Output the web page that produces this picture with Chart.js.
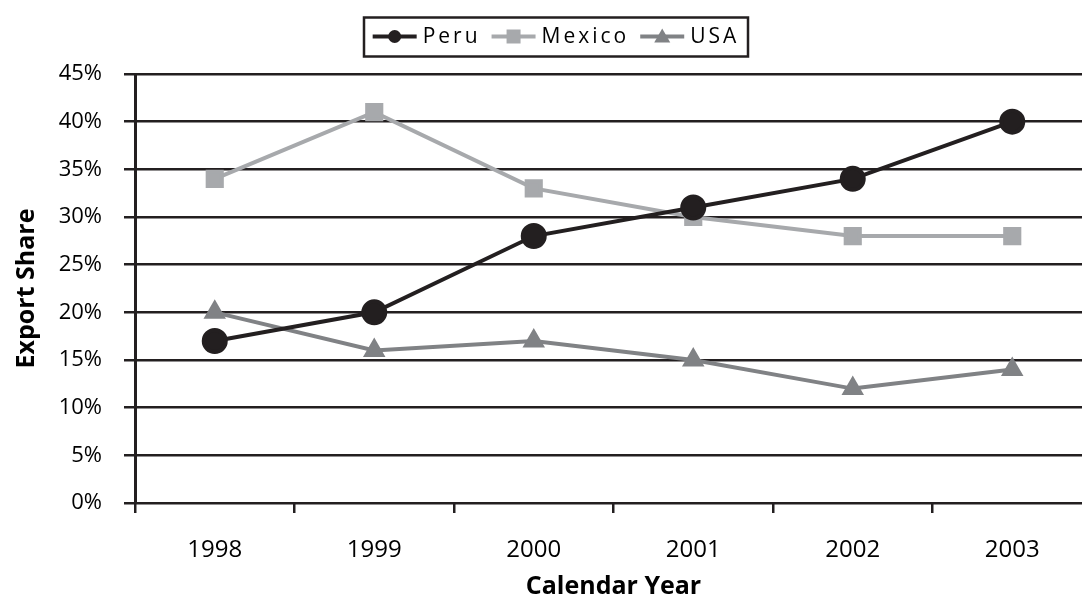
<!DOCTYPE html>
<html>
<head>
<meta charset="utf-8">
<script src="https://cdn.jsdelivr.net/npm/chart.js@4.4.1/dist/chart.umd.min.js"></script>
<style>
  html, body { margin: 0; padding: 0; background: #fff; overflow: hidden; }
  #wrap { width: 1100px; height: 596px; }
</style>
</head>
<body>
<div id="wrap"><canvas id="c" width="1100" height="596"></canvas></div>
<script>
// Export share by calendar year
const years = ['1998', '1999', '2000', '2001', '2002', '2003'];
const peru = [17, 20, 28, 31, 34, 40];
const mexico = [34, 41, 33, 30, 28, 28];
const usa = [20, 16, 17, 15, 12, 14];
const yTicks = [0, 5, 10, 15, 20, 25, 30, 35, 40, 45];

const FONT = "'Open Sans', 'Noto Sans', sans-serif";
const INK = '#231f20';

// Boxed legend with spaced lettering, drawn across the top
const boxedLegend = {
  id: 'boxedLegend',
  afterDraw(chart) {
    const ctx = chart.ctx;
    const items = chart.data.datasets;
    ctx.save();
    ctx.font = '21px ' + FONT;
    ctx.letterSpacing = '3px';
    const lineLen = 44, gapText = 6, gapItem = 11;
    const widths = items.map(d => ctx.measureText(d.label).width);
    let total = 0;
    widths.forEach((w, i) => { total += lineLen + gapText + w + (i < items.length - 1 ? gapItem : 0); });
    const cx = 556, cy = 36.5;
    let x = cx - total / 2;
    // frame
    ctx.lineWidth = 2.5;
    ctx.strokeStyle = INK;
    ctx.strokeRect(364, 17.5, 384, 39);
    items.forEach((d, i) => {
      ctx.strokeStyle = d.borderColor;
      ctx.fillStyle = d.borderColor;
      ctx.lineWidth = 4;
      ctx.beginPath();
      ctx.moveTo(x, cy);
      ctx.lineTo(x + lineLen, cy);
      ctx.stroke();
      const mx = x + lineLen / 2;
      ctx.beginPath();
      if (d.pointStyle === 'circle') {
        ctx.arc(mx, cy, 6.5, 0, Math.PI * 2);
      } else if (d.pointStyle === 'rect') {
        ctx.rect(mx - 7, cy - 7, 14, 14);
      } else {
        ctx.moveTo(mx, cy - 8);
        ctx.lineTo(mx + 8, cy + 6);
        ctx.lineTo(mx - 8, cy + 6);
        ctx.closePath();
      }
      ctx.fill();
      ctx.fillStyle = '#000';
      ctx.textBaseline = 'middle';
      ctx.textAlign = 'left';
      ctx.fillText(d.label, x + lineLen + gapText, cy + 1);
      x += lineLen + gapText + widths[i] + gapItem;
    });
    ctx.restore();
  }
};

new Chart(document.getElementById('c'), {
  type: 'line',
  data: {
    labels: years,
    datasets: [
      {
        label: 'Peru', data: peru,
        borderColor: INK, backgroundColor: INK, borderWidth: 4,
        pointStyle: 'circle', pointRadius: 11, pointBackgroundColor: INK, pointBorderColor: INK
      },
      {
        label: 'Mexico', data: mexico,
        borderColor: '#a7a9ac', backgroundColor: '#a7a9ac', borderWidth: 4,
        pointStyle: 'rect', pointRadius: 10, pointBackgroundColor: '#a7a9ac', pointBorderColor: '#a7a9ac'
      },
      {
        label: 'USA', data: usa,
        borderColor: '#808285', backgroundColor: '#808285', borderWidth: 4,
        pointStyle: 'triangle', pointRadius: 9, pointBackgroundColor: '#808285', pointBorderColor: '#808285'
      }
    ]
  },
  options: {
    responsive: false,
    animation: false,
    layout: { autoPadding: false, padding: { top: 74, right: 8, left: 0, bottom: 0 } },
    plugins: { legend: { display: false }, tooltip: { enabled: false } },
    elements: { line: { tension: 0 } },
    scales: {
      x: {
        offset: true,
        grid: { offset: true, drawOnChartArea: false, drawTicks: true, tickLength: 10, color: INK, lineWidth: 2.5 },
        border: { display: false },
        ticks: { color: '#000', font: { family: FONT, size: 24 }, padding: 23, maxRotation: 0 },
        title: { display: true, text: 'Calendar Year', color: '#000', font: { family: FONT, size: 25, weight: 'bold', lineHeight: 1 }, padding: { top: 0, bottom: -3 } },
        afterFit(s) { s.height = 93; }
      },
      y: {
        min: 0, max: 45,
        afterBuildTicks(s) { s.ticks = yTicks.map(v => ({ value: v })); },
        grid: { color: INK, lineWidth: 2.5, tickLength: 11, drawTicks: true },
        border: { display: true, color: INK, width: 3 },
        ticks: { color: '#000', font: { family: FONT, size: 22 }, padding: 22, callback: v => v + '%' },
        title: { display: true, text: 'Export Share', color: '#000', font: { family: FONT, size: 25, weight: 'bold', lineHeight: 1 }, padding: { top: 14, bottom: 0 } },
        afterFit(s) { s.width = 135; }
      }
    }
  },
  plugins: [boxedLegend]
});
</script>
</body>
</html>
